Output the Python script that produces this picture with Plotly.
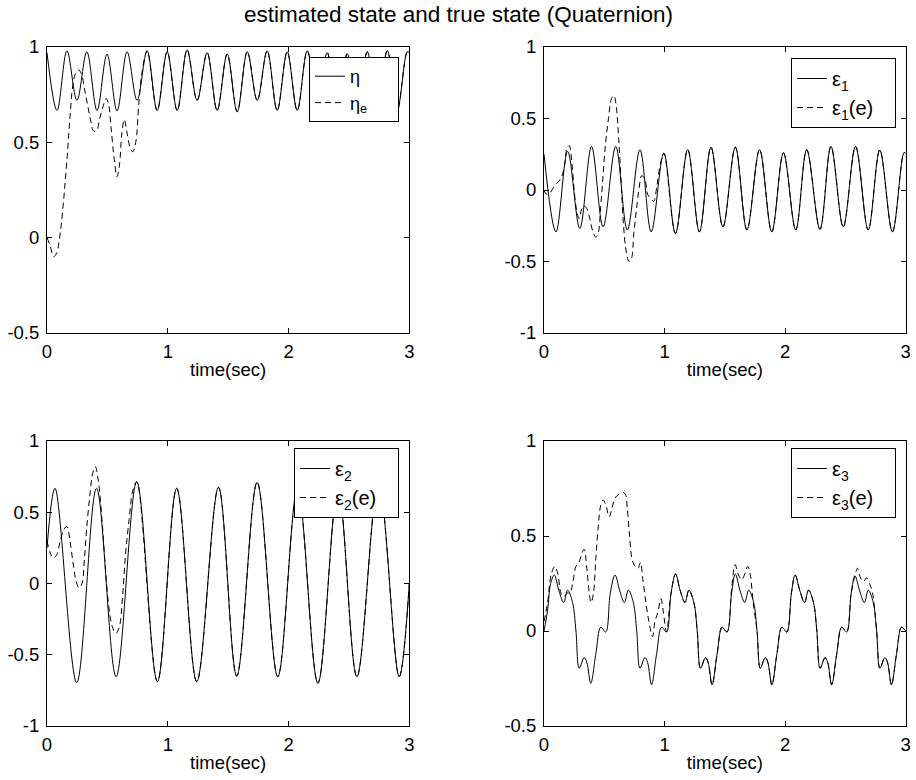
import plotly.graph_objects as go

FONT = "Liberation Sans, Arial, sans-serif"

# ---------------- data ----------------
# eta (scalar part), true
eta_t = [0.0, 0.083, 0.165, 0.248, 0.33, 0.414, 0.497, 0.58, 0.663, 0.746, 0.829, 0.912,
         0.995, 1.078, 1.16, 1.243, 1.326, 1.409, 1.492, 1.575, 1.658, 1.741, 1.823, 1.906,
         1.989, 2.072, 2.155, 2.238, 2.32, 2.403, 2.486, 2.569, 2.652, 2.735, 2.818, 2.9,
         2.983, 3.0]
eta_v = [0.97, 0.667, 0.98, 0.72, 0.975, 0.667, 0.963, 0.665, 0.975, 0.72, 0.98, 0.667,
         0.975, 0.667, 0.985, 0.72, 0.97, 0.667, 0.963, 0.66, 0.975, 0.72, 0.98, 0.667,
         0.975, 0.667, 0.98, 0.72, 0.97, 0.667, 0.965, 0.667, 0.975, 0.72, 0.98, 0.667,
         0.975, 0.97]
# eta estimate, transient part (afterwards it coincides with the true state)
eta_e_t0 = [0.0, 0.025, 0.055, 0.08, 0.1, 0.12, 0.145, 0.17, 0.19, 0.21, 0.235, 0.26,
            0.285, 0.31, 0.335, 0.36, 0.385, 0.41, 0.435, 0.46, 0.49, 0.51, 0.53, 0.555,
            0.58, 0.6, 0.62, 0.64, 0.66, 0.685, 0.71, 0.735, 0.76, 0.785]
eta_e_v0 = [0.0, -0.04, -0.1, -0.08, -0.02, 0.08, 0.25, 0.45, 0.63, 0.78, 0.86, 0.88,
            0.86, 0.78, 0.7, 0.62, 0.56, 0.56, 0.62, 0.68, 0.73, 0.7, 0.58, 0.42,
            0.32, 0.38, 0.55, 0.62, 0.56, 0.48, 0.45, 0.5, 0.7, 0.86]
eta_e_join = 0.829

# epsilon 1, true
eps1_t = [0.0, 0.099, 0.196, 0.297, 0.394, 0.49, 0.595, 0.691, 0.796, 0.889, 0.994, 1.09,
          1.192, 1.289, 1.385, 1.484, 1.587, 1.683, 1.788, 1.889, 1.986, 2.088, 2.179,
          2.289, 2.38, 2.482, 2.584, 2.689, 2.785, 2.89, 2.986, 3.0]
eps1_v = [0.25, -0.293, 0.27, -0.27, 0.305, -0.258, 0.305, -0.28, 0.282, -0.293, 0.258,
          -0.305, 0.282, -0.293, 0.3, -0.258, 0.3, -0.28, 0.282, -0.293, 0.26, -0.28,
          0.282, -0.275, 0.305, -0.258, 0.305, -0.28, 0.28, -0.293, 0.262, 0.255]
eps1_e_t0 = [0.0, 0.02, 0.05, 0.08, 0.11, 0.14, 0.17, 0.19, 0.21, 0.23, 0.25, 0.27, 0.29,
             0.31, 0.33, 0.355, 0.38, 0.405, 0.43, 0.45, 0.47, 0.49, 0.51, 0.535, 0.56,
             0.58, 0.6, 0.62, 0.64, 0.66, 0.68, 0.705, 0.725, 0.745, 0.765, 0.79, 0.81,
             0.835, 0.86, 0.885, 0.91, 0.935, 0.96]
eps1_e_v0 = [0.0, -0.03, -0.02, 0.02, 0.05, 0.08, 0.17, 0.29, 0.31, 0.2, 0.0, -0.14, -0.2,
             -0.14, -0.11, -0.13, -0.2, -0.29, -0.33, -0.3, -0.12, 0.1, 0.32, 0.5, 0.64,
             0.66, 0.58, 0.35, 0.05, -0.25, -0.42, -0.5, -0.48, -0.3, -0.15, 0.02, 0.1,
             0.08, -0.03, -0.06, -0.08, 0.02, 0.16]
eps1_e_join = 0.994

# epsilon 2, true
eps2_t = [0.0, 0.066, 0.246, 0.41, 0.572, 0.743, 0.914, 1.074, 1.24, 1.42, 1.571, 1.74,
          1.911, 2.075, 2.243, 2.41, 2.566, 2.745, 2.916, 3.0]
eps2_v = [0.25, 0.668, -0.696, 0.668, -0.654, 0.714, -0.689, 0.668, -0.689, 0.675, -0.65,
          0.71, -0.654, 0.668, -0.70, 0.668, -0.654, 0.71, -0.654, 0.0]
eps2_e_t0 = [0.0, 0.025, 0.05, 0.08, 0.11, 0.14, 0.165, 0.19, 0.215, 0.24, 0.265, 0.29,
             0.31, 0.33, 0.355, 0.38, 0.4, 0.425, 0.455, 0.48, 0.51, 0.54, 0.57, 0.6,
             0.625, 0.65, 0.68, 0.71]
eps2_e_v0 = [0.3, 0.22, 0.18, 0.2, 0.3, 0.38, 0.4, 0.3, 0.15, 0.02, -0.03, 0.0, 0.18,
             0.4, 0.62, 0.78, 0.82, 0.72, 0.45, 0.15, -0.15, -0.3, -0.35, -0.3, -0.1, 0.2,
             0.45, 0.65]
eps2_e_join = 0.743

# epsilon 3, true
eps3_t = [0.0, 0.03, 0.055,
          0.085, 0.125, 0.163, 0.196, 0.237, 0.265, 0.292, 0.333, 0.355, 0.388, 0.43, 0.471, 0.512, 0.55,
          0.589, 0.629, 0.667, 0.7, 0.741, 0.769, 0.796, 0.837, 0.859, 0.892, 0.934, 0.975, 1.016, 1.054,
          1.091, 1.131, 1.169, 1.202, 1.243, 1.271, 1.298, 1.339, 1.361, 1.394, 1.436, 1.477, 1.518, 1.556,
          1.587, 1.627, 1.665, 1.698, 1.739, 1.767, 1.794, 1.835, 1.857, 1.89, 1.932, 1.973, 2.014, 2.052,
          2.083, 2.123, 2.161, 2.194, 2.235, 2.263, 2.29, 2.331, 2.353, 2.386, 2.428, 2.469, 2.51, 2.548,
          2.579, 2.619, 2.657, 2.69, 2.731, 2.759, 2.786, 2.827, 2.849, 2.882, 2.924, 2.965, 3.0]
eps3_v = [0.0, 0.11, 0.25,
          0.295, 0.21, 0.15, 0.215, 0.15, 0.0, -0.196, -0.14, -0.165, -0.275, -0.12, 0.02, -0.005, 0.2,
          0.295, 0.21, 0.15, 0.215, 0.15, 0.0, -0.196, -0.14, -0.165, -0.283, -0.12, 0.02, -0.005, 0.2,
          0.3, 0.21, 0.15, 0.215, 0.15, 0.0, -0.196, -0.14, -0.165, -0.283, -0.12, 0.02, -0.005, 0.2,
          0.3, 0.21, 0.15, 0.215, 0.15, 0.0, -0.196, -0.14, -0.165, -0.283, -0.12, 0.02, -0.005, 0.2,
          0.295, 0.21, 0.15, 0.215, 0.15, 0.0, -0.196, -0.14, -0.165, -0.283, -0.12, 0.02, -0.005, 0.2,
          0.29, 0.21, 0.15, 0.215, 0.15, 0.0, -0.196, -0.14, -0.165, -0.283, -0.12, 0.02, 0.0]
eps3_e_t0 = [0.0, 0.03, 0.06, 0.09, 0.115, 0.14, 0.165, 0.19, 0.215, 0.24, 0.265, 0.29,
             0.31, 0.333, 0.355, 0.375, 0.39, 0.41, 0.43, 0.45, 0.47, 0.49, 0.515, 0.54,
             0.565, 0.59, 0.62, 0.65, 0.675, 0.69, 0.71, 0.73, 0.755, 0.78, 0.8, 0.82,
             0.845, 0.87, 0.9, 0.92, 0.945, 0.97, 0.99]
eps3_e_v0 = [0.05, 0.15, 0.3, 0.34, 0.3, 0.2, 0.18, 0.2, 0.2, 0.26, 0.34, 0.36, 0.4, 0.43,
             0.33, 0.2, 0.15, 0.2, 0.38, 0.55, 0.66, 0.69, 0.66, 0.6, 0.65, 0.7, 0.72, 0.73,
             0.72, 0.65, 0.5, 0.38, 0.34, 0.33, 0.36, 0.27, 0.15, 0.05, -0.03, 0.05, 0.1,
             0.17, 0.1]
eps3_e_t1 = [1.556, 1.585, 1.61, 1.64, 1.665, 1.69, 1.71, 1.735]
eps3_e_v1 = [0.22, 0.35, 0.3, 0.27, 0.3, 0.34, 0.3, 0.15]
eps3_e_t2 = [2.6, 2.625, 2.65, 2.675, 2.7, 2.725]
eps3_e_v2 = [0.33, 0.28, 0.26, 0.28, 0.25, 0.2]

NB = "\u00a0"
names = [("η" + NB * 5, "η<sub>e</sub>" + NB * 5),
         ("ε<sub>1</sub>" + NB * 4, "ε<sub>1</sub>(e)" + NB * 3),
         ("ε<sub>2</sub>" + NB * 4, "ε<sub>2</sub>(e)" + NB * 3),
         ("ε<sub>3</sub>" + NB * 4, "ε<sub>3</sub>(e)" + NB * 3)]
legend_font_sizes = [18, 20, 20, 20]


def take(t, v, lo, hi):
    sel = [(a, b) for a, b in zip(t, v) if lo <= a < hi]
    return [a for a, _ in sel], [b for _, b in sel]


# assemble estimates: transient segments + the true values where they coincide
a_t, a_v = take(eta_t, eta_v, eta_e_join, 3.01)
eta_e_t, eta_e_v = eta_e_t0 + a_t, eta_e_v0 + a_v
a_t, a_v = take(eps1_t, eps1_v, eps1_e_join, 3.01)
eps1_e_t, eps1_e_v = eps1_e_t0 + a_t, eps1_e_v0 + a_v
a_t, a_v = take(eps2_t, eps2_v, eps2_e_join, 3.01)
eps2_e_t, eps2_e_v = eps2_e_t0 + a_t, eps2_e_v0 + a_v
s1 = take(eps3_t, eps3_v, 1.0, 1.55)
s2 = take(eps3_t, eps3_v, 1.76, 2.59)
s3 = take(eps3_t, eps3_v, 2.75, 3.01)
eps3_e_t = eps3_e_t0 + s1[0] + eps3_e_t1 + s2[0] + eps3_e_t2 + s3[0]
eps3_e_v = eps3_e_v0 + s1[1] + eps3_e_v1 + s2[1] + eps3_e_v2 + s3[1]

series = [
    (eta_t, eta_v, eta_e_t, eta_e_v),
    (eps1_t, eps1_v, eps1_e_t, eps1_e_v),
    (eps2_t, eps2_v, eps2_e_t, eps2_e_v),
    (eps3_t, eps3_v, eps3_e_t, eps3_e_v),
]

# ---------------- figure ----------------
W, H = 916, 780
fig = go.Figure()
leg_ids = ["legend", "legend2", "legend3", "legend4"]
for i, (tt, tv, et, ev) in enumerate(series):
    xa = "x" if i == 0 else f"x{i+1}"
    ya = "y" if i == 0 else f"y{i+1}"
    fig.add_trace(go.Scatter(x=tt, y=tv, xaxis=xa, yaxis=ya, mode="lines",
                             name=names[i][0], legend=leg_ids[i],
                             line=dict(color="black", width=1, shape="spline", smoothing=1)))
    fig.add_trace(go.Scatter(x=et, y=ev, xaxis=xa, yaxis=ya, mode="lines",
                             name=names[i][1], legend=leg_ids[i],
                             line=dict(color="black", width=1, dash="6px,4px",
                                       shape="spline", smoothing=1)))

tickfont = dict(family=FONT, size=18.5, color="black")
xdom = [[47 / W, 409.3 / W], [544 / W, 905.7 / W]]
ydom = [[1 - 333 / H, 1 - 47 / H], [1 - 726 / H, 1 - 441 / H]]
yranges = [[-0.5, 1], [-1, 1], [-1, 1], [-0.5, 1]]


def ticks_for(r):
    vals = [v for v in [-1, -0.5, 0, 0.5, 1] if r[0] <= v <= r[1]]
    txt = [("%g" % v) for v in vals]
    return vals, txt


layout = dict(width=W, height=H, margin=dict(l=0, r=0, t=0, b=0, pad=0),
              paper_bgcolor="white", plot_bgcolor="white", showlegend=True)
for i in range(4):
    row, col = divmod(i, 2)
    sfx = "" if i == 0 else str(i + 1)
    yv, yt = ticks_for(yranges[i])
    layout["xaxis" + sfx] = dict(
        domain=xdom[col], range=[0, 3], anchor="y" + sfx, automargin=False,
        tickvals=[0, 1, 2, 3], ticktext=["0", "1", "2", "3"],
        ticks="inside", ticklen=5, tickcolor="black", tickwidth=1,
        showline=True, linecolor="black", linewidth=1, mirror="ticks",
        showgrid=False, zeroline=False, tickfont=tickfont, ticklabelstandoff=2,
        title=dict(text="time(sec)", font=tickfont, standoff=1))
    layout["yaxis" + sfx] = dict(
        domain=ydom[row], range=yranges[i], anchor="x" + sfx, automargin=False,
        tickvals=yv, ticktext=yt,
        ticks="inside", ticklen=5, tickcolor="black", tickwidth=1,
        showline=True, linecolor="black", linewidth=1, mirror="ticks",
        showgrid=False, zeroline=False, tickfont=tickfont, ticklabelstandoff=3)

leg_pos = [(399 / W, 1 - 57 / H), (896 / W, 1 - 58 / H), (399 / W, 1 - 448 / H), (896 / W, 1 - 448 / H)]
for lid, (lx, ly), fs in zip(leg_ids, leg_pos, legend_font_sizes):
    layout[lid] = dict(x=lx, y=ly, xanchor="right", yanchor="top",
                       bgcolor="white", bordercolor="black", borderwidth=1,
                       font=dict(family=FONT, size=fs, color="black"),
                       tracegroupgap=0, itemwidth=30)

layout["annotations"] = [dict(text="estimated state and true state (Quaternion)",
                              xref="paper", yref="paper", x=0.5, y=1 - 14 / H,
                              xanchor="center", yanchor="middle", showarrow=False,
                              font=dict(family=FONT, size=22.5, color="black"))]
fig.update_layout(**layout)
fig.write_html("out.html",
               post_script="document.body.style.margin='0';document.body.style.overflow='hidden';")
